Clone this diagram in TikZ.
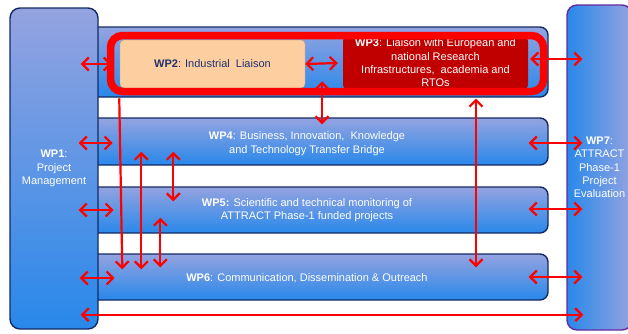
\documentclass[tikz,border=0pt]{standalone}
\usepackage{fontspec}
\setmainfont{Liberation Sans}
\usetikzlibrary{calc,arrows.meta}
\definecolor{boxtop}{RGB}{148,163,224}
\definecolor{boxbot}{RGB}{40,136,234}
\definecolor{navy}{RGB}{20,42,100}
\definecolor{wpviolet}{RGB}{102,42,160}
\definecolor{peach}{RGB}{252,206,160}
\definecolor{peachline}{RGB}{190,168,112}
\definecolor{wpred}{RGB}{192,0,0}
\definecolor{wpnavytext}{RGB}{31,50,110}

\begin{document}
\begin{tikzpicture}[x=1pt,y=-1pt,
  wp/.style={rectangle,rounded corners=8pt,draw=navy,line width=1.4pt,top color=boxtop,bottom color=boxbot},
  txt/.style={text=white,align=center,font=\fontsize{11}{13.3}\selectfont},
  link/.style={red,line width=2.2pt,{Straight Barb[length=6.5pt,width=13pt]}-{Straight Barb[length=6.5pt,width=13pt]}},
  down/.style={red,line width=2.2pt,-{Straight Barb[length=6.5pt,width=13pt]}}]
\useasboundingbox (0,0) rectangle (628,333);
% work package rows
\node[wp,minimum width=458,minimum height=70] (top) at (319,62) {};
\node[wp,minimum width=458,minimum height=47] (wp4) at (319,141.5) {};
\node[wp,minimum width=458,minimum height=46] (wp5) at (319,210) {};
\node[wp,minimum width=458,minimum height=46] (wp6) at (319,277) {};
\node[txt] (t4) at ($(wp4)+(-12,2)$) {\textbf{WP4}: Business, Innovation,\ \ Knowledge\\and Technology Transfer Bridge};
\node[txt] (t5) at ($(wp5)+(-12,0)$) {\textbf{WP5:} Scientific and technical monitoring of\\ATTRACT Phase-1 funded projects};
\node[txt] (t6) at ($(wp6)+(-12,1)$) {\textbf{WP6}: Communication, Dissemination \& Outreach};
\node[wp,rounded corners=10pt,minimum width=88,minimum height=321,txt] (wp1) at (54,168.5) {\textbf{WP1}:\\Project\\Management};
\node[wp,rounded corners=10pt,draw=wpviolet,left color=boxbot,right color=boxtop,minimum width=65,minimum height=325,txt] (wp7) at (599.5,167.5) {\textbf{WP7}:\\ATTRACT\\Phase-1\\Project\\Evaluation};
\node[rectangle,rounded corners=4pt,draw=peachline,fill=peach,minimum width=185,minimum height=48,font=\fontsize{11}{13.3}\selectfont,text=wpnavytext] (wp2) at (212.5,64) {\textbf{WP2}: Industrial\ \ Liaison};
\node[rectangle,rounded corners=6pt,fill=wpred,minimum width=185,minimum height=50,txt] (wp3) at (435.5,63) {\textbf{WP3}: Liaison with European and\\national Research\\Infrastructures,\ \ academia and\\RTOs};
\node[rectangle,rounded corners=12pt,draw=red,line width=7.5pt,minimum width=433,minimum height=56] (liaison) at (327,63.5) {};

\draw[link] ($(wp1.east |- wp2)+(-18,0)$) to ($(wp2.west)+(-8,0)$);
\draw[link] (wp2.east) to ($(wp3.west)+(-5,0)$);
\draw[link] ($(wp3.east)+(2,-4)$) to ($(wp7.west |- wp3)+(16,-4)$);
\draw[link] ($(wp1.east |- wp4)+(-20,1.5)$) to ($(wp1.east |- wp4)+(14,1.5)$);
\draw[link] ($(wp4.east)+(-20,1.5)$) to ($(wp7.west |- wp4)+(16,1.5)$);
\draw[link] ($(wp1.east |- wp5)+(-20,0)$) to ($(wp1.east |- wp5)+(15,0)$);
\draw[link] ($(wp5.east)+(-20,-1)$) to ($(wp7.west |- wp5)+(16,-1)$);
\draw[link] ($(wp1.east |- wp6)+(-19,1)$) to ($(wp1.east |- wp6)+(16,1)$);
\draw[link] ($(wp6.east)+(-20,0)$) to ($(wp7.west |- wp6)+(16,0)$);
\draw[link] ($(wp1.south east)+(-18,-15)$) to ($(wp7.south west)+(17,-16)$);
% vertical links
\draw[link] ($(liaison.south)+(-5,-14)$) to ($(wp4.north)+(3,7)$);
\draw[link] ($(wp3.south)+(40.5,8)$) to ($(wp6.north)+(157,14)$);
\draw[down] ($(liaison.south west)+(12.5,3)$) to ($(wp6.north west)+(33,16)$);
\draw[link] ($(wp4.south west)+(52,-14)$) to ($(wp6.north west)+(52,16)$);
\draw[link] ($(wp4.south west)+(84,-14)$) to ($(wp5.north west)+(84,15)$);
\draw[link] ($(wp5.south west)+(71,-16)$) to ($(wp6.north west)+(71,14)$);
\end{tikzpicture}
\end{document}
